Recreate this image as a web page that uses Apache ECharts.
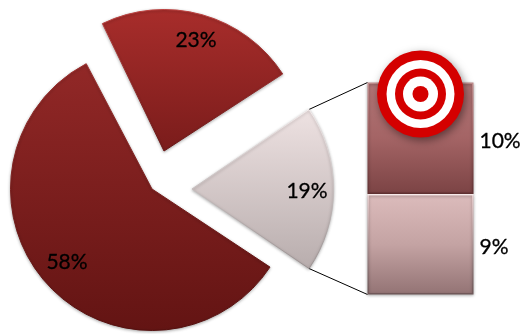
<!DOCTYPE html>
<html>
<head>
<meta charset="utf-8">
<style>html,body{margin:0;padding:0;background:#fff}#chart{width:524px;height:334px}</style>
<script src="https://cdn.jsdelivr.net/npm/echarts@6/dist/echarts.min.js"></script>
</head>
<body>
<div id="chart"></div>
<script>
// Share of the whole for each wedge, and the split of the pale wedge.
const wedgeNames = ['Other', 'Second', 'Detail'];
const wedgeValues = [58, 23, 19];
const splitNames = ['Lower', 'Upper'];
const splitValues = [9, 10];
const WHOLE = 100;

const RADIUS = 141.5;
const SPLIT_BOX = { left: 367.5, top: 82.5, width: 106, height: 212 };

const vgrad = (...colors) => new echarts.graphic.LinearGradient(0, 0, 0, 1,
  colors.map((color, i) => ({ offset: i / (colors.length - 1), color }))
);

const labelFont = {
  color: '#000',
  fontFamily: 'Lato',
  fontSize: 21,
  textBorderColor: '#000',
  textBorderWidth: 0.3
};

// Each wedge is pulled away from the others, so each gets its own centre.
const wedgeStyles = [
  { center: [152, 189], start: -33.5, fill: ['#922827', '#631413'], edge: ['#9c302e', '#540f0e'], text: [67, 262] },
  { center: [164, 151], start: 115.8, fill: ['#a82d2b', '#7a1c1b'], edge: ['#bd4341', '#681615'], text: [196, 40] },
  { center: [192, 189], start: 34.2, fill: ['#eee2e2', '#b8adad'], edge: ['#f4ecec', '#9a9090'], text: [307, 191] }
];

const pieSeries = wedgeValues.map((value, i) => {
  const s = wedgeStyles[i];
  return {
    type: 'pie',
    silent: true,
    animation: false,
    clockwise: true,
    center: s.center,
    radius: [0, RADIUS],
    startAngle: s.start,
    avoidLabelOverlap: false,
    labelLine: { show: false },
    labelLayout: p => p.dataIndex === 0 ? { x: s.text[0], y: s.text[1], align: 'center', verticalAlign: 'middle' } : {},
    data: [
      {
        name: wedgeNames[i],
        value,
        itemStyle: {
          color: vgrad(s.fill[0], s.fill[1]),
          borderColor: vgrad(s.edge[0], s.edge[1]),
          borderWidth: 1,
          shadowColor: 'rgba(0,0,0,0.3)',
          shadowBlur: 3,
          shadowOffsetY: 1
        },
        label: Object.assign({ show: true, formatter: '{c}%' }, labelFont)
      },
      {
        name: '',
        value: WHOLE - value,
        itemStyle: { color: 'transparent', borderWidth: 0 },
        label: { show: false }
      }
    ]
  };
});

const splitStyles = [
  { fill: vgrad('#dcbcbc', '#c4a3a3', '#937374'), edge: new echarts.graphic.LinearGradient(0, 0, 0, 1, [
      { offset: 0, color: '#fbf1f1' }, { offset: 0.02, color: '#e4caca' }, { offset: 1, color: '#6f5758' }
    ]) },
  { fill: vgrad('#b27576', '#a46465', '#7b4344'), edge: vgrad('#c08c8c', '#9a5e5f', '#623233') }
];

const barSeries = splitValues.map((value, i) => ({
  type: 'bar',
  name: splitNames[i],
  stack: 'split',
  silent: true,
  animation: false,
  barWidth: '100%',
  data: [value],
  z: 3 - i,
  itemStyle: {
    color: splitStyles[i].fill,
    borderColor: splitStyles[i].edge,
    borderWidth: 1.5,
    shadowColor: 'rgba(0,0,0,0.3)',
    shadowBlur: 3,
    shadowOffsetY: 1
  },
  label: Object.assign({
    show: true,
    position: 'right',
    distance: 6,
    offset: [0, 3],
    formatter: '{c}%'
  }, labelFont)
}));

// Leader lines run from the pale wedge's arc ends to the corners of the split column.
const detail = wedgeStyles[2];
const arcX = detail.center[0] + RADIUS * Math.cos(detail.start * Math.PI / 180);
const arcDY = RADIUS * Math.sin(detail.start * Math.PI / 180);
const leader = (x1, y1, x2, y2) => ({
  type: 'line',
  silent: true,
  z: 2,
  shape: { x1, y1, x2, y2 },
  style: { stroke: '#000', lineWidth: 1 }
});

// Bullseye badge sitting over the top of the split column.
const BADGE = { x: 420.5, y: 94 };
const rings = [
  { r: 43.5, fill: '#d40000', shadow: true },
  { r: 34, fill: '#ffffff' },
  { r: 25.5, fill: '#d40000' },
  { r: 17.5, fill: '#ffffff' },
  { r: 8, fill: '#d40000' }
];
const badge = rings.map((ring, i) => ({
  type: 'circle',
  silent: true,
  z: 10 + i,
  shape: { cx: BADGE.x, cy: BADGE.y, r: ring.r },
  style: Object.assign({ fill: ring.fill }, ring.shadow ? {
    shadowColor: 'rgba(0,0,0,0.45)', shadowBlur: 8, shadowOffsetX: 2, shadowOffsetY: 3
  } : {})
}));

const chart = echarts.init(document.getElementById('chart'), null, { renderer: 'canvas' });
chart.setOption({
  backgroundColor: '#ffffff',
  animation: false,
  grid: Object.assign({ containLabel: false }, SPLIT_BOX),
  xAxis: { type: 'category', show: false, data: ['split'] },
  yAxis: { type: 'value', show: false, min: 0, max: splitValues[0] + splitValues[1] },
  graphic: [
    leader(arcX, detail.center[1] - arcDY, SPLIT_BOX.left, SPLIT_BOX.top),
    leader(arcX, detail.center[1] + arcDY, SPLIT_BOX.left, SPLIT_BOX.top + SPLIT_BOX.height)
  ].concat(badge),
  series: pieSeries.concat(barSeries)
});
</script>
</body>
</html>
